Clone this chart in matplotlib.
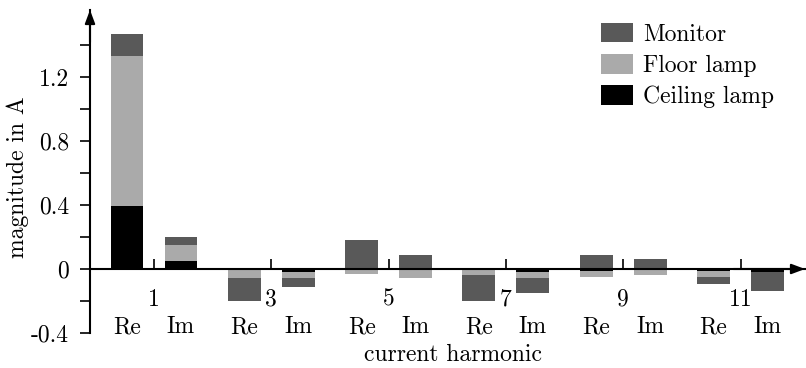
import matplotlib
matplotlib.use("Agg")
import matplotlib.pyplot as plt
import numpy as np

plt.rcParams['font.family'] = 'serif'
plt.rcParams['font.serif'] = ['cmr10', 'DejaVu Serif']
plt.rcParams['axes.unicode_minus'] = False
plt.rcParams['mathtext.fontset'] = 'cm'

harmonics = ['1', '3', '5', '7', '9', '11']
parts = ['Re', 'Im']
series_names = ['Monitor', 'Floor lamp', 'Ceiling lamp']
colors = ['#595959', '#aaaaaa', '#000000']

# values per harmonic: [Re, Im]
ceiling_re = [0.394, 0.0, 0.0, 0.0, -0.01, -0.015]
ceiling_im = [0.052, -0.02, -0.005, -0.02, 0.0, -0.02]
floor_re = [0.937, -0.054, -0.03, -0.04, -0.04, -0.035]
floor_im = [0.098, -0.034, -0.05, -0.037, -0.04, 0.0]
monitor_re = [0.138, -0.146, 0.18, -0.16, 0.09, -0.045]
monitor_im = [0.047, -0.058, 0.0875, -0.09, 0.0625, -0.115]

W, H = 806, 368
fig = plt.figure(figsize=(W / 100, H / 100), dpi=100)
ax_left, ax_right, ax_top, ax_bot = 90, 805, 10, 333
ax = fig.add_axes([ax_left / W, 1 - ax_bot / H, (ax_right - ax_left) / W, (ax_bot - ax_top) / H])

fs = 17
offset = 0.23
width = 0.28
k = np.arange(len(harmonics))

stack_order = [(series_names[2], colors[2], ceiling_re, ceiling_im),
               (series_names[1], colors[1], floor_re, floor_im),
               (series_names[0], colors[0], monitor_re, monitor_im)]

for xs, idx in ((k - offset, 0), (k + offset, 1)):
    pos = np.zeros(len(k))
    neg = np.zeros(len(k))
    for name, col, vre, vim in stack_order:
        vals = np.array(vre if idx == 0 else vim)
        bottoms = np.where(vals >= 0, pos, neg)
        ax.bar(xs, vals, width=width, bottom=bottoms, color=col, linewidth=0,
               label=name if idx == 0 else None, zorder=2)
        pos = pos + np.where(vals >= 0, vals, 0)
        neg = neg + np.where(vals < 0, vals, 0)

xmin = (ax_left - 154) / 117.3
xmax = (ax_right - 154) / 117.3
ax.set_xlim(xmin, xmax)
ymin = -0.4
ymax = (269 - ax_top) / 160
ax.set_ylim(ymin, ymax)

for s in ('top', 'right'):
    ax.spines[s].set_visible(False)
ax.spines['bottom'].set_position(('data', 0))
ax.spines['bottom'].set_zorder(3)
ax.spines['left'].set_linewidth(1.5)
ax.spines['bottom'].set_linewidth(1.5)

# arrows
ax.annotate('', xy=(0, 1), xytext=(0, 0.9), xycoords='axes fraction',
            arrowprops=dict(arrowstyle='-|>,head_length=0.8,head_width=0.3', color='black', lw=1.5,
                            shrinkA=0, shrinkB=0), zorder=4)
ax.annotate('', xy=(1, 0), xytext=(0.9, 0), xycoords=('axes fraction', 'data'),
            arrowprops=dict(arrowstyle='-|>,head_length=0.8,head_width=0.3', color='black', lw=1.5,
                            shrinkA=0, shrinkB=0), zorder=4)

yt = [-0.4, 0, 0.4, 0.8, 1.2]
ax.set_yticks(yt)
ax.set_yticklabels(['-0.4', '0', '0.4', '0.8', '1.2'], fontsize=fs)
ax.set_yticks([-0.2, 0.2, 0.6, 1.0, 1.4], minor=True)
ax.tick_params(axis='y', which='both', direction='out', length=7.2, width=1.2, pad=8)

ax.set_xticks(k)
ax.set_xticklabels(harmonics, fontsize=fs)
ax.tick_params(axis='x', which='both', direction='in', length=7, width=1.2, pad=14)

for kk in k:
    for dx, p in ((-offset, 'Re'), (offset, 'Im')):
        ax.text(kk + dx, (269 - 327) / 160, p, ha='center', va='center', fontsize=fs)

ax.set_xlabel('current harmonic', fontsize=fs)
ax.xaxis.set_label_coords((453 - ax_left) / (ax_right - ax_left), (ax_bot - 355) / (ax_bot - ax_top))
ax.xaxis.label.set_va('center')
ax.set_ylabel('magnitude in A', fontsize=fs)
ax.yaxis.set_label_coords((18 - ax_left) / (ax_right - ax_left), (ax_bot - 177) / (ax_bot - ax_top))
ax.yaxis.label.set_va('center')

h, l = ax.get_legend_handles_labels()
leg = ax.legend(h[::-1], l[::-1], loc='upper left', bbox_to_anchor=((596 - ax_left) / (ax_right - ax_left), (ax_bot - 18) / (ax_bot - ax_top)),
                frameon=False, fontsize=fs, handlelength=1.36, handleheight=0.9,
                handletextpad=0.45, labelspacing=0.35, borderaxespad=0, borderpad=0.2)

fig.savefig('out.png', dpi=100)
